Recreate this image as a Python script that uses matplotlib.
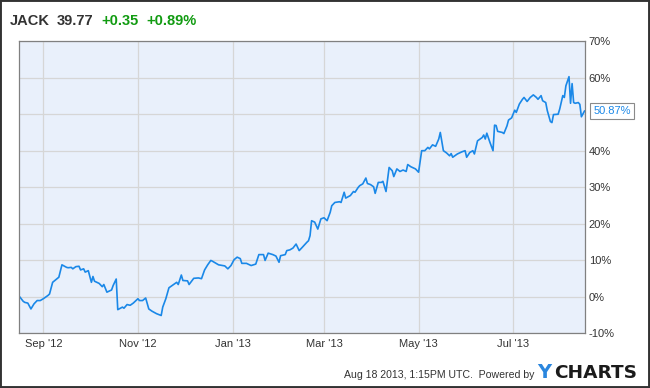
import matplotlib

matplotlib.use("Agg")
import matplotlib.dates as mdates
import matplotlib.pyplot as plt
import numpy as np
import pandas as pd
from matplotlib.patches import Rectangle

plt.rcParams["font.family"] = ["Liberation Sans", "DejaVu Sans"]

# ---------------------------------------------------------------------------
# Data: JACK total return, % since Aug 17 2012
# ---------------------------------------------------------------------------
dates = [
    "2012-08-17", "2012-08-19", "2012-08-20", "2012-08-22", "2012-08-24",
    "2012-08-26", "2012-08-28", "2012-08-30", "2012-09-01", "2012-09-04",
    "2012-09-05", "2012-09-07", "2012-09-09", "2012-09-11", "2012-09-13",
    "2012-09-16", "2012-09-17", "2012-09-19", "2012-09-20", "2012-09-22",
    "2012-09-24", "2012-09-25", "2012-09-27", "2012-09-28", "2012-09-30",
    "2012-10-02", "2012-10-03", "2012-10-04", "2012-10-07", "2012-10-09",
    "2012-10-10", "2012-10-12", "2012-10-15", "2012-10-16", "2012-10-18",
    "2012-10-19", "2012-10-22", "2012-10-23", "2012-10-25", "2012-10-27",
    "2012-10-29", "2012-11-01", "2012-11-02", "2012-11-04", "2012-11-06",
    "2012-11-08", "2012-11-10", "2012-11-13", "2012-11-16", "2012-11-17",
    "2012-11-19", "2012-11-21", "2012-11-23", "2012-11-26", "2012-11-27",
    "2012-11-29", "2012-11-30", "2012-12-03", "2012-12-04", "2012-12-07",
    "2012-12-10", "2012-12-12", "2012-12-14", "2012-12-16", "2012-12-18",
    "2012-12-19", "2012-12-21", "2012-12-23", "2012-12-27", "2012-12-29",
    "2012-12-31", "2013-01-02", "2013-01-04", "2013-01-06", "2013-01-07",
    "2013-01-10", "2013-01-11", "2013-01-13", "2013-01-16", "2013-01-18",
    "2013-01-21", "2013-01-22", "2013-01-24", "2013-01-27", "2013-01-29",
    "2013-01-31", "2013-02-01", "2013-02-04", "2013-02-05", "2013-02-07",
    "2013-02-09", "2013-02-11", "2013-02-13", "2013-02-15", "2013-02-18",
    "2013-02-19", "2013-02-20", "2013-02-21", "2013-02-23", "2013-02-25",
    "2013-02-27", "2013-03-01", "2013-03-03", "2013-03-05", "2013-03-06",
    "2013-03-08", "2013-03-11", "2013-03-12", "2013-03-14", "2013-03-15",
    "2013-03-18", "2013-03-20", "2013-03-21", "2013-03-23", "2013-03-24",
    "2013-03-26", "2013-03-28", "2013-03-29", "2013-03-31", "2013-04-02",
    "2013-04-03", "2013-04-05", "2013-04-07", "2013-04-08", "2013-04-10",
    "2013-04-12", "2013-04-14", "2013-04-15", "2013-04-17", "2013-04-19",
    "2013-04-21", "2013-04-23", "2013-04-24", "2013-04-26", "2013-04-29",
    "2013-05-01", "2013-05-03", "2013-05-05", "2013-05-07", "2013-05-08",
    "2013-05-10", "2013-05-12", "2013-05-14", "2013-05-15", "2013-05-17",
    "2013-05-19", "2013-05-21", "2013-05-22", "2013-05-23", "2013-05-26",
    "2013-05-29", "2013-05-31", "2013-06-01", "2013-06-03", "2013-06-05",
    "2013-06-06", "2013-06-08", "2013-06-11", "2013-06-12", "2013-06-13",
    "2013-06-14", "2013-06-16", "2013-06-18", "2013-06-19", "2013-06-20",
    "2013-06-21", "2013-06-24", "2013-06-25", "2013-06-27", "2013-06-28",
    "2013-06-30", "2013-07-02", "2013-07-03", "2013-07-05", "2013-07-07",
    "2013-07-08", "2013-07-10", "2013-07-12", "2013-07-14", "2013-07-16",
    "2013-07-17", "2013-07-19", "2013-07-20", "2013-07-22", "2013-07-23",
    "2013-07-25", "2013-07-26", "2013-07-27", "2013-07-30", "2013-07-31",
    "2013-08-02", "2013-08-03", "2013-08-04", "2013-08-06", "2013-08-07",
    "2013-08-08", "2013-08-09", "2013-08-10", "2013-08-12", "2013-08-13",
    "2013-08-14", "2013-08-16",
]
pct_change = [
    -0.2, -1.3, -1.6, -1.8, -3.4,
    -2.0, -1.1, -1.1, -0.6, 0.3,
    0.7, 3.9, 4.6, 5.3, 8.7,
    8.0, 7.9, 8.0, 7.6, 8.2,
    8.3, 7.3, 7.6, 6.7, 7.1,
    3.9, 5.5, 4.2, 3.6, 2.7,
    3.3, 1.2, 1.8, 3.0, 4.8,
    -3.6, -2.9, -3.2, -2.2, -2.4,
    -1.8, -0.6, -1.1, -1.1, -0.4,
    -3.4, -4.0, -4.7, -5.2, -2.9,
    -0.6, 2.4, 3.0, 3.9, 3.3,
    5.9, 4.4, 4.3, 3.3, 5.0,
    5.1, 4.9, 7.3, 8.7, 9.9,
    9.7, 9.2, 8.7, 8.4, 7.6,
    8.5, 10.1, 10.8, 10.4, 9.1,
    9.1, 8.9, 8.5, 8.9, 11.5,
    11.5, 9.9, 11.9, 11.5, 11.1,
    9.4, 11.2, 11.5, 12.6, 12.8,
    13.3, 14.4, 12.6, 13.5, 14.9,
    15.3, 16.7, 20.8, 20.4, 18.5,
    21.3, 21.6, 20.8, 23.1, 24.9,
    25.8, 26.0, 25.8, 28.6, 27.0,
    27.7, 28.8, 28.6, 29.9, 30.4,
    30.9, 32.5, 31.0, 30.7, 30.1,
    28.3, 31.3, 31.3, 31.6, 28.8,
    35.4, 34.5, 32.9, 35.0, 34.3,
    34.7, 34.3, 36.2, 35.6, 35.0,
    34.1, 40.0, 40.0, 40.9, 40.5,
    41.6, 41.2, 43.2, 45.0, 40.0,
    39.4, 38.6, 39.2, 38.2, 39.1,
    39.7, 40.0, 38.2, 39.5, 40.0,
    39.1, 42.7, 43.6, 44.3, 43.2,
    44.8, 42.3, 40.0, 47.0, 46.9,
    45.3, 45.0, 44.7, 46.8, 48.4,
    49.0, 51.1, 50.5, 52.8, 54.1,
    54.6, 53.5, 54.6, 55.3, 54.6,
    54.1, 55.1, 53.7, 53.2, 51.0,
    48.0, 47.7, 49.9, 50.0, 51.4,
    55.1, 54.6, 57.8, 60.3, 53.0,
    58.4, 53.2, 53.0, 53.2, 52.7,
    49.3, 50.87,
]

y_ticks = [-10, 0, 10, 20, 30, 40, 50, 60, 70]
# the 50% label sits under the last-value box in the reference, so it is not shown
y_tick_labels = ["-10%", "0%", "10%", "20%", "30%", "40%", "", "60%", "70%"]

ticker = "JACK"
price = "39.77"
change = "+0.35"
change_pct = "+0.89%"
footer = "Aug 18 2013, 1:15PM UTC.  Powered by"

# colours
LINE_BLUE = "#1a88e8"
BG_BLUE = "#e9f0fb"
GRID = "#d6d6d6"
TEXT = "#333333"
GREEN = "#119b11"

W, H = 650, 388
fig = plt.figure(figsize=(W / 100, H / 100), dpi=100)
fig.patch.set_facecolor("white")

# axes placed in pixel terms of the reference
left, right, top, bottom = 19.3, 584.5, 41.3, 333.0
ax = fig.add_axes([left / W, 1 - bottom / H, (right - left) / W, (bottom - top) / H])
ax.set_facecolor(BG_BLUE)

x = pd.to_datetime(dates)
ax.plot(x, pct_change, color=LINE_BLUE, linewidth=1.2, solid_joinstyle="round")

ax.set_xlim(pd.Timestamp("2012-08-16 12:00"), pd.Timestamp("2013-08-16"))
ax.set_ylim(-10, 70)

ax.yaxis.tick_right()
ax.set_yticks(y_ticks)
ax.set_yticklabels(y_tick_labels)
ax.xaxis.set_major_locator(mdates.MonthLocator(bymonth=[1, 3, 5, 7, 9, 11]))
ax.xaxis.set_major_formatter(mdates.DateFormatter("%b '%y"))
ax.tick_params(axis="both", length=0, labelsize=8, labelcolor=TEXT)
ax.tick_params(axis="y", pad=3)
ax.tick_params(axis="x", pad=4)

ax.grid(True, color=GRID, linewidth=0.9)
ax.set_axisbelow(True)
for sp in ax.spines.values():
    sp.set_color("#808080")
    sp.set_linewidth(0.9)

# last value label
ax.annotate(
    f"{pct_change[-1]:.2f}%",
    xy=(x[-1], pct_change[-1]),
    xytext=(6.3, 0),
    textcoords="offset points",
    ha="left",
    va="center",
    fontsize=8,
    color=LINE_BLUE,
    annotation_clip=False,
    bbox=dict(boxstyle="square,pad=0.25", facecolor="white", edgecolor="#8a8a8a", linewidth=0.8),
)

# header
y_head = 1 - 21 / H
fig.text(10 / W, y_head, ticker, fontsize=10.5, fontweight="bold", color=TEXT, va="center")
fig.text(57 / W, y_head, price, fontsize=10.5, fontweight="bold", color=TEXT, va="center")
fig.text(101 / W, y_head, change, fontsize=10.5, fontweight="bold", color=GREEN, va="center")
fig.text(146 / W, y_head, change_pct, fontsize=10.5, fontweight="bold", color=GREEN, va="center")

# footer + logo
fig.text(534 / W, 1 - 374.5 / H, footer, fontsize=7.6, color=TEXT, ha="right", va="center")
y_logo = 1 - 373 / H
fig.text(537 / W, y_logo, "Y", fontsize=14, fontweight="bold", color="#2a86de",
         family="DejaVu Sans", va="center")
fig.text(554 / W, y_logo, "CHARTS", fontsize=13.3, fontweight="bold", color="#1b1b1b",
         family="DejaVu Sans", va="center")

# outer frame
fig.add_artist(Rectangle((0, 0), 1, 1, transform=fig.transFigure, fill=False,
                         edgecolor="#333333", linewidth=2.8))

fig.savefig("out.png", dpi=100)
